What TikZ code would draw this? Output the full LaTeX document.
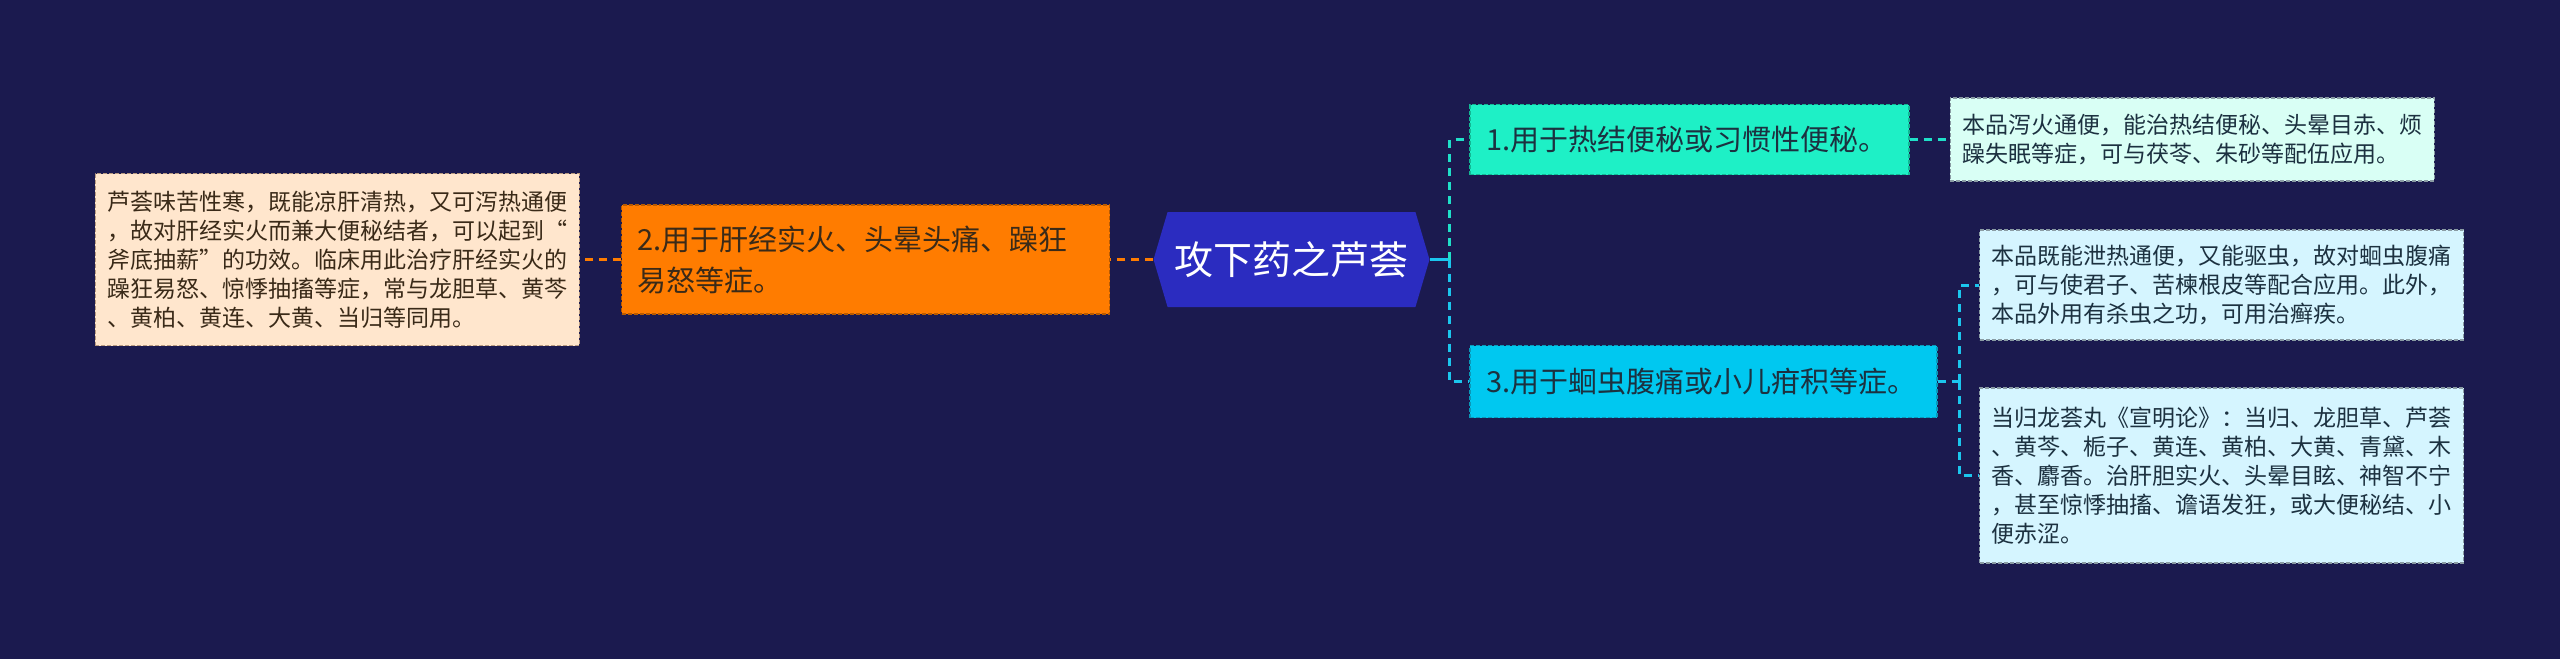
\documentclass[tikz,border=0pt]{standalone}
\usepackage{fontspec}
\newfontfamily\zhfont{Noto Sans CJK SC}
\usepackage{tikz}
\usetikzlibrary{positioning,shapes.symbols}
\definecolor{bgnavy}{HTML}{1B1A4F}
\definecolor{rootblue}{HTML}{2B2CC0}
\definecolor{orangefill}{HTML}{FF7C00}
\definecolor{orangeedge}{HTML}{B85A00}
\definecolor{beigefill}{HTML}{FFE6CD}
\definecolor{beigeedge}{HTML}{B89A80}
\definecolor{tealfill}{HTML}{1EF0C6}
\definecolor{tealedge}{HTML}{12B894}
\definecolor{mintfill}{HTML}{D9FFF5}
\definecolor{cyanfill}{HTML}{00C8F0}
\definecolor{cyanedge}{HTML}{0A98B8}
\definecolor{icefill}{HTML}{D5F5FF}
\definecolor{leafedge}{HTML}{8A9CA4}
\definecolor{tealline}{HTML}{1FE0C8}
\definecolor{cyanline}{HTML}{1BC6EE}
\definecolor{brownink}{HTML}{3A2A18}
\definecolor{darkink}{HTML}{1C3140}

\begin{document}
\begin{tikzpicture}[
    x=1pt, y=-1pt,
    every node/.style={font=\zhfont, align=left},
    box/.style={rectangle, draw, dash pattern=on 4pt off 2pt, line width=1.2pt, inner xsep=12pt, inner ysep=0pt},
    rootnode/.style={signal, signal to=east and west, signal pointer angle=147, fill=rootblue,
        text=white, font=\zhfont\fontsize{39}{39}\selectfont, minimum width=276pt, minimum height=95pt, inner sep=0pt},
    topic/.style={box, font=\zhfont\fontsize{29}{41}\selectfont, text=darkink, inner xsep=16pt},
    leaf/.style={box, font=\zhfont\fontsize{23}{29}\selectfont, text width=460pt, text=darkink, draw=leafedge},
    link/.style={line width=3pt, dash pattern=on 8pt off 6pt}
]
\fill[bgnavy] (0,0) rectangle (2560,659);
\useasboundingbox (0,0) rectangle (2560,659);

\node[rootnode] (root) at (1291.5,259.5) {攻下药之芦荟};

\node[topic, fill=orangefill, draw=orangeedge, text=brownink, text width=456pt, minimum height=109pt] (sym2) [left=43pt of root]
    {2.用于肝经实火、头晕头痛、躁狂\\易怒等症。};
\node[leaf, fill=beigefill, draw=beigeedge, text=brownink, minimum height=172pt] (note2) [left=41pt of sym2]
    {芦荟味苦性寒，既能凉肝清热，又可泻热通便\\，故对肝经实火而兼大便秘结者，可以起到“\\斧底抽薪”的功效。临床用此治疗肝经实火的\\躁狂易怒、惊悸抽搐等症，常与龙胆草、黄芩\\、黄柏、黄连、大黄、当归等同用。};

\node[topic, fill=tealfill, draw=tealedge, text width=407pt, minimum height=70pt] (sym1) at (1689.5,139.5)
    {1.用于热结便秘或习惯性便秘。};
\node[leaf, fill=mintfill, minimum height=83pt] (note1) [right=40pt of sym1]
    {本品泻火通便，能治热结便秘、头晕目赤、烦\\躁失眠等症，可与茯苓、朱砂等配伍应用。};

\node[topic, fill=cyanfill, draw=cyanedge, text width=435pt, minimum height=72pt] (sym3) at (1703.5,381.5)
    {3.用于蛔虫腹痛或小儿疳积等症。};
\node[leaf, fill=icefill, minimum height=110pt] (note3a) at (2221.5,285)
    {本品既能泄热通便，又能驱虫，故对蛔虫腹痛\\，可与使君子、苦楝根皮等配合应用。此外，\\本品外用有杀虫之功，可用治癣疾。};
\node[leaf, fill=icefill, minimum height=175pt] (note3b) at (2221.5,475.5)
    {当归龙荟丸《宣明论》：当归、龙胆草、芦荟\\、黄芩、栀子、黄连、黄柏、大黄、青黛、木\\香、麝香。治肝胆实火、头晕目眩、神智不宁\\，甚至惊悸抽搐、谵语发狂，或大便秘结、小\\便赤涩。};

\coordinate[right=20pt of root] (hub);
\coordinate[right=22pt of sym3] (fork);

\draw[link, orangefill] (root.west) -- (sym2.east);
\draw[link, orangefill] (sym2.west) -- (note2.east);

\draw[cyanline, line width=3pt] (root.east) -- (hub);
\draw[link, tealline] (hub) |- (sym1.west);
\draw[link, cyanline] (hub) |- (sym3.west);
\draw[link, tealline] (sym1.east) -- (note1.west);

\draw[link, cyanline] (sym3.east) -- (fork);
\draw[link, cyanline] (fork) |- (note3a.west);
\draw[link, cyanline] (fork) |- (note3b.west);

\end{tikzpicture}
\end{document}
